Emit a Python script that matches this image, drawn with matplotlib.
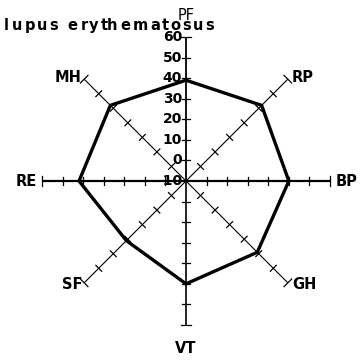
import numpy as np
import matplotlib.pyplot as plt

# SF-36 subscale scores, clockwise from the top
scales = ['PF', 'RP', 'BP', 'GH', 'VT', 'SF', 'RE', 'MH']
scores = [39, 42, 40, 39, 40, 31, 42, 42]
tick_values = [-10, 0, 10, 20, 30, 40, 50, 60]
title = 'lupus erythematosus'

vmin, vmax = -10, 60
angles = np.deg2rad([90, 45, 0, -45, -90, -135, 180, 135])

def polar(value, ang):
    r = value - vmin
    return r * np.cos(ang), r * np.sin(ang)

fig = plt.figure(figsize=(3.62, 3.61), dpi=100)
ax = fig.add_axes([0, 0, 1, 1])
px = 2.057  # pixels per unit
ax.set_xlim(-186 / px, 176 / px)
ax.set_ylim(-180 / px, 181 / px)
ax.set_aspect('equal')
ax.set_axis_off()

axis_widths = [1.3, 0.8, 1.6, 0.8, 1.2, 0.8, 1.6, 0.8]
for name, ang, lw in zip(scales, angles, axis_widths):
    x0, y0 = polar(vmin, ang)
    x1, y1 = polar(vmax, ang)
    ax.plot([x0, x1], [y0, y1], color='black', lw=lw, solid_capstyle='butt')
    # perpendicular ticks
    nx, ny = -np.sin(ang), np.cos(ang)
    for v in tick_values[1:]:
        h = 2.6 if v == vmax else 2.0
        tx, ty = polar(v, ang)
        ax.plot([tx - h * nx, tx + h * nx], [ty - h * ny, ty + h * ny],
                color='black', lw=0.9)

# tick labels along the PF axis
for v in tick_values:
    tx, ty = polar(v, np.pi / 2)
    ax.text(tx - 2.0, ty, str(v), ha='right', va='center', fontsize=10,
            fontweight='bold', color='black')

# scale labels
label_pos = {
    'PF': (0, 80.5, 'center', 'center', 'normal'),
    'RP': (51.5, 50.5, 'left', 'center', 'bold'),
    'BP': (72.5, 0, 'left', 'center', 'bold'),
    'GH': (51.5, -50.5, 'left', 'center', 'bold'),
    'VT': (0, -81.5, 'center', 'center', 'bold'),
    'SF': (-50.5, -50.5, 'right', 'center', 'bold'),
    'RE': (-72.5, 0, 'right', 'center', 'bold'),
    'MH': (-51, 50.5, 'right', 'center', 'bold'),
}
for name in scales:
    x, y, ha, va, fw = label_pos[name]
    ax.text(x, y, name, ha=ha, va=va, fontsize=10.5, fontweight=fw, color='black')

# score polygon
xs, ys = polar(np.array(scores), angles)
ax.plot(np.append(xs, xs[0]), np.append(ys, ys[0]), color='black', lw=2.4,
        solid_joinstyle='round')

# title set letter by letter for its wide, typewriter-like spacing
glyph_x = [6.5, 17.5, 30, 42.5, 54, None, 72, 84, 94, 104, 112.5, 125, 140,
           155, 165, 175, 187, 198, 210]
for ch, gx in zip(title, glyph_x):
    if gx is None:
        continue
    fig.text(gx / 362, 1 - 30 / 361, ch, ha='center', va='baseline',
             fontsize=10.5, fontweight='bold', color='black')

fig.savefig('out.png', dpi=100)
